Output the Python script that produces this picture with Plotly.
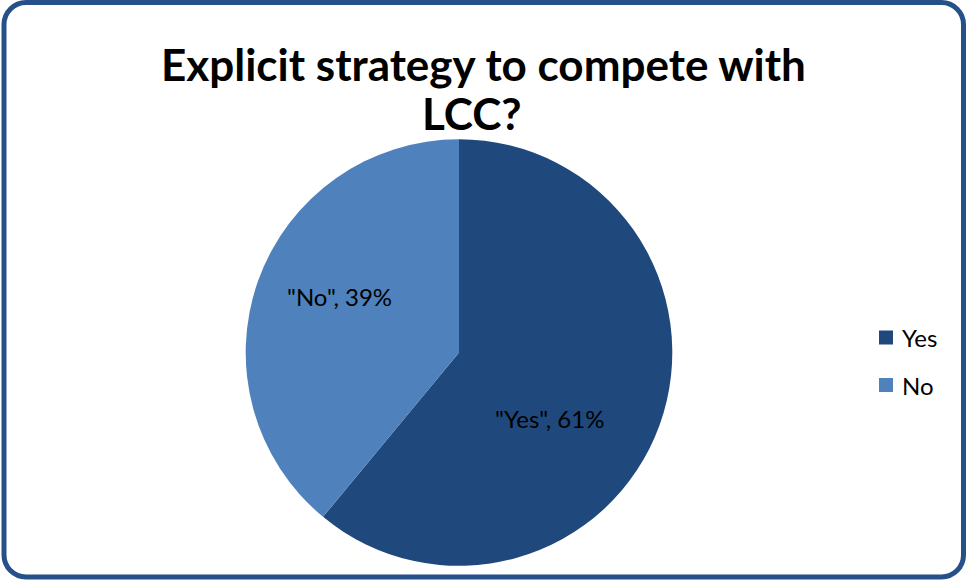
import plotly.graph_objects as go

# Survey answers
labels = ["Yes", "No"]
values = [61, 39]
colors = ["#1F497D", "#4F81BD"]
title_lines = ["Explicit strategy to compete with", "LCC?"]

W, H = 967, 581


def px(x):
    return x / W


def py(y):
    return 1 - y / H


# pie circle geometry (pixels)
cx, cy, r = 459, 352.5, 213.3

fig = go.Figure(
    go.Pie(
        labels=labels,
        values=values,
        marker=dict(colors=colors, line=dict(width=0)),
        sort=False,
        direction="clockwise",
        rotation=0,
        textinfo="none",
        hoverinfo="label+percent",
        showlegend=False,
        domain=dict(x=[px(cx - r), px(cx + r)], y=[py(cy + r), py(cy - r)]),
    )
)

# slice data labels
label_pos = {"Yes": (549, 418), "No": (339, 296)}
total = sum(values)
annotations = []
for lab, val in zip(labels, values):
    x, y = label_pos[lab]
    annotations.append(
        dict(
            x=px(x), y=py(y), xref="paper", yref="paper",
            text=f'"{lab}", {round(100 * val / total)}%',
            showarrow=False, xanchor="center", yanchor="middle",
            font=dict(family="Lato", size=24, color="#000000"),
        )
    )

# title, one annotation per line for tighter line spacing
for line, (tx, ty) in zip(title_lines, [(483, 64), (472, 113)]):
    annotations.append(
        dict(
            x=px(tx), y=py(ty), xref="paper", yref="paper",
            text=f"<b>{line}</b>", showarrow=False,
            xanchor="center", yanchor="middle",
            font=dict(family="Lato", size=44, color="#000000"),
        )
    )

# legend: colour squares + text
shapes = []
leg_y = [337.5, 385]
for lab, col, y in zip(labels, colors, leg_y):
    shapes.append(
        dict(type="rect", xref="paper", yref="paper",
             x0=px(879), x1=px(893), y0=py(y - 7), y1=py(y + 7),
             fillcolor=col, line=dict(width=0))
    )
    annotations.append(
        dict(x=px(900), y=py(y), xref="paper", yref="paper", text=lab,
             showarrow=False, xanchor="left", yanchor="middle",
             font=dict(family="Lato", size=24, color="#000000"))
    )

# rounded chart border
x0, y0, x1, y1, rc = 4, 2.5, 963.5, 577, 22
k = 0.5523 * rc
pts = [
    f"M {px(x0 + rc)},{py(y0)}",
    f"L {px(x1 - rc)},{py(y0)}",
    f"C {px(x1 - rc + k)},{py(y0)} {px(x1)},{py(y0 + rc - k)} {px(x1)},{py(y0 + rc)}",
    f"L {px(x1)},{py(y1 - rc)}",
    f"C {px(x1)},{py(y1 - rc + k)} {px(x1 - rc + k)},{py(y1)} {px(x1 - rc)},{py(y1)}",
    f"L {px(x0 + rc)},{py(y1)}",
    f"C {px(x0 + rc - k)},{py(y1)} {px(x0)},{py(y1 - rc + k)} {px(x0)},{py(y1 - rc)}",
    f"L {px(x0)},{py(y0 + rc)}",
    f"C {px(x0)},{py(y0 + rc - k)} {px(x0 + rc - k)},{py(y0)} {px(x0 + rc)},{py(y0)}",
    "Z",
]
shapes.append(
    dict(type="path", xref="paper", yref="paper", path=" ".join(pts),
         line=dict(color="#26508A", width=5), fillcolor="rgba(0,0,0,0)")
)

fig.update_layout(
    width=W, height=H,
    margin=dict(l=0, r=0, t=0, b=0),
    paper_bgcolor="#FFFFFF",
    plot_bgcolor="#FFFFFF",
    annotations=annotations,
    shapes=shapes,
    showlegend=False,
)

fig.write_html("out.html")
